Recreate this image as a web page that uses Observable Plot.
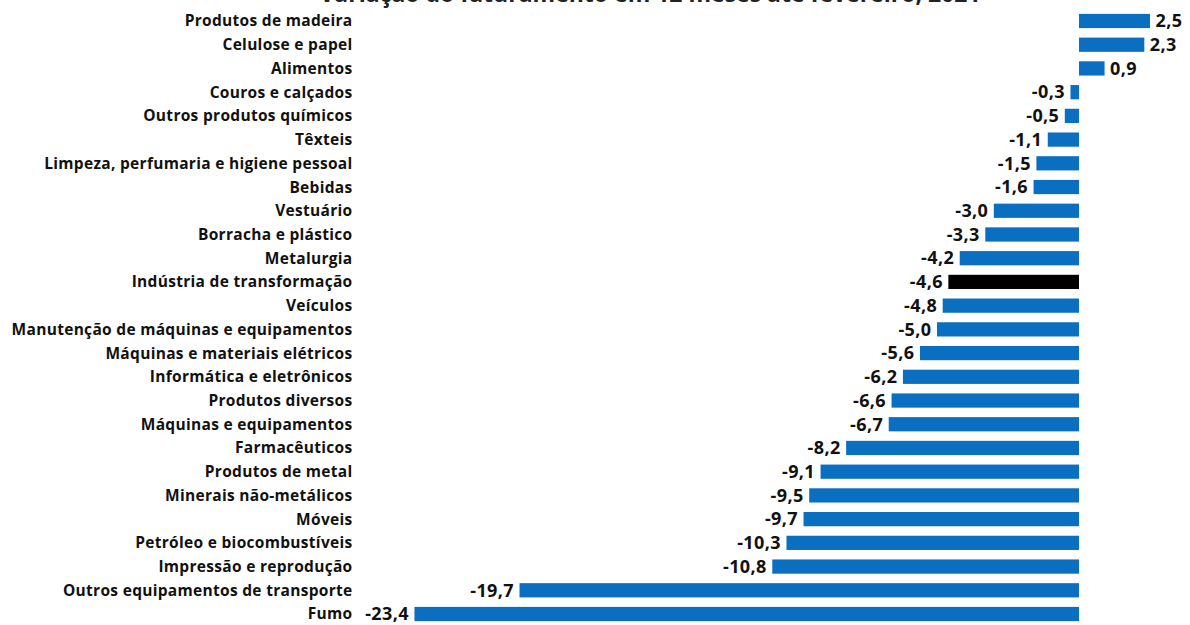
<!DOCTYPE html>
<html>
<head>
<meta charset="utf-8">
<script src="https://cdn.jsdelivr.net/npm/d3@7"></script>
<script src="https://cdn.jsdelivr.net/npm/@observablehq/plot@0.6"></script>
<style>
  html, body { margin: 0; padding: 0; background: #fff; overflow: hidden; }
  #wrap { position: relative; width: 1190px; height: 625px; }
  #title { position: absolute; top: -18px; left: 0; width: 1300px; text-align: center;
           font-family: "Open Sans", sans-serif; font-weight: 700; font-size: 23px; line-height: 22px; color: #222; white-space: nowrap; }
  svg { display: block; }
  g[aria-label="y-axis tick label"] text { letter-spacing: 0.3px; }
  g[aria-label="text"] text { letter-spacing: 0.4px; }
</style>
</head>
<body>
<div id="wrap">
  <div id="title">Variação do faturamento em 12 meses até fevereiro, 2021</div>
  <div id="chart"></div>
</div>
<script>
const categories = [
  "Produtos de madeira",
  "Celulose e papel",
  "Alimentos",
  "Couros e calçados",
  "Outros produtos químicos",
  "Têxteis",
  "Limpeza, perfumaria e higiene pessoal",
  "Bebidas",
  "Vestuário",
  "Borracha e plástico",
  "Metalurgia",
  "Indústria de transformação",
  "Veículos",
  "Manutenção de máquinas e equipamentos",
  "Máquinas e materiais elétricos",
  "Informática e eletrônicos",
  "Produtos diversos",
  "Máquinas e equipamentos",
  "Farmacêuticos",
  "Produtos de metal",
  "Minerais não-metálicos",
  "Móveis",
  "Petróleo e biocombustíveis",
  "Impressão e reprodução",
  "Outros equipamentos de transporte",
  "Fumo"
];
const values = [2.5, 2.3, 0.9, -0.3, -0.5, -1.1, -1.5, -1.6, -3.0, -3.3, -4.2, -4.6, -4.8, -5.0, -5.6, -6.2, -6.6, -6.7, -8.2, -9.1, -9.5, -9.7, -10.3, -10.8, -19.7, -23.4];
const highlight = "Indústria de transformação";

const data = categories.map((c, i) => ({category: c, value: values[i]}));
const fmt = v => v.toFixed(1).replace(".", ",");

const chart = Plot.plot({
  width: 1190,
  height: 625,
  marginTop: 11.5,
  marginBottom: 1.5,
  marginLeft: 369,
  marginRight: 11.6,
  style: {fontFamily: "Open Sans, sans-serif", background: "#fff"},
  x: {domain: [-25, 3.5], axis: null},
  y: {domain: categories, paddingInner: 0.4, paddingOuter: 0.1, round: false, label: null},
  marks: [
    Plot.barX(data, {
      x: "value", y: "category",
      fill: d => d.category === highlight ? "#000000" : "#0A6FC0"
    }),
    Plot.axisY({
      tickSize: 0, tickPadding: 17, label: null,
      fontSize: 15.5, fontWeight: 700, fill: "#111"
    }),
    Plot.text(data.filter(d => d.value < 0), {
      x: "value", y: "category", text: d => fmt(d.value),
      textAnchor: "end", dx: -6, fontSize: 18, fontWeight: 700, fill: "#111"
    }),
    Plot.text(data.filter(d => d.value >= 0), {
      x: "value", y: "category", text: d => fmt(d.value),
      textAnchor: "start", dx: 5, fontSize: 18, fontWeight: 700, fill: "#111"
    })
  ]
});
document.getElementById("chart").appendChild(chart);
</script>
</body>
</html>
